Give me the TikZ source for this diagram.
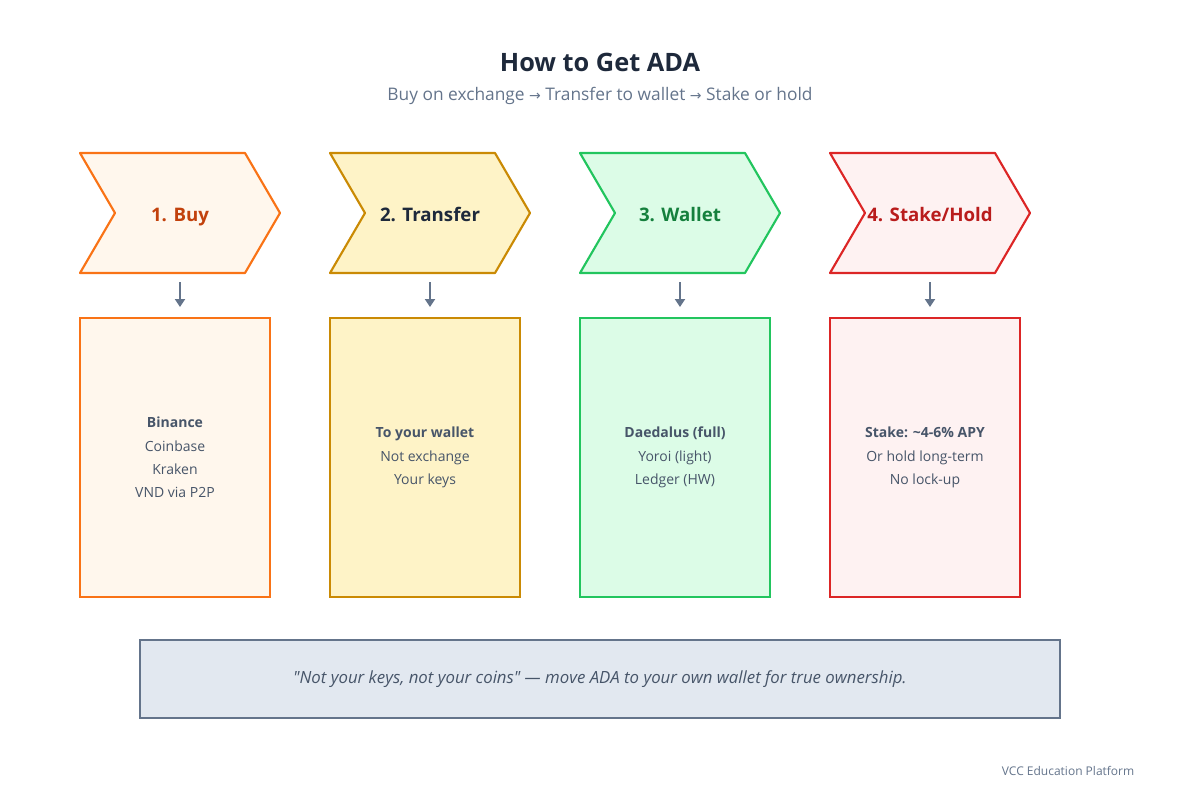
\documentclass[tikz,border=0pt]{standalone}
\usepackage{fontspec}
\setmainfont{Open Sans}
\newfontfamily\notefont{Open Sans}
\newfontfamily\symfont{DejaVu Sans}
\usetikzlibrary{arrows.meta}
\definecolor{titlec}{HTML}{1E293B}
\definecolor{subc}{HTML}{64748B}
\definecolor{bodyc}{HTML}{475569}
\definecolor{arrc}{HTML}{64748B}
\definecolor{sA}{HTML}{F97316}\definecolor{fA}{HTML}{FFF7ED}\definecolor{tA}{HTML}{C2410C}\definecolor{bA}{HTML}{FFF7ED}
\definecolor{sB}{HTML}{CA8A04}\definecolor{fB}{HTML}{FEF3C7}\definecolor{tB}{HTML}{1E293B}\definecolor{bB}{HTML}{FEF3C7}
\definecolor{sC}{HTML}{22C55E}\definecolor{fC}{HTML}{DCFCE7}\definecolor{tC}{HTML}{15803D}\definecolor{bC}{HTML}{DCFCE7}
\definecolor{sD}{HTML}{DC2626}\definecolor{fD}{HTML}{FEF2F2}\definecolor{tD}{HTML}{B91C1C}\definecolor{bD}{HTML}{FEF2F2}
\definecolor{noteF}{HTML}{E2E8F0}\definecolor{noteS}{HTML}{64748B}
\newcommand{\rarr}{{\symfont\fontsize{10.5}{12}\selectfont\raisebox{0.3pt}{→}}}
\tikzset{
  chevlabel/.style={font=\fontsize{14}{16}\selectfont\bfseries, inner sep=0pt, anchor=base},
  infobox/.style={draw, line width=1.6pt, minimum width=142.5pt, minimum height=209pt, inner sep=0pt, align=center, text=bodyc, font=\fontsize{10.5}{17.5}\selectfont},
  boxtext/.style={text=bodyc, align=center, font=\fontsize{10.5}{17.5}\selectfont},
  flowarrow/.style={draw=arrc, line width=1.5pt, -{Triangle[width=7.5pt,length=6pt]}},
}
\begin{document}
\begin{tikzpicture}[x=0.75pt,y=-0.75pt]
\useasboundingbox (0,0) rectangle (1200,800);
\node[text=titlec, font=\fontsize{19}{22}\selectfont\bfseries] (title) at (600,62) {How to Get ADA};
\node[text=subc, font=\fontsize{13}{15}\selectfont] (sub) at (600,96) {Buy on exchange \rarr{} Transfer to wallet \rarr{} Stake or hold};
\foreach \i/\x/\lab/\l in {A/80/{1. Buy}/1, B/330/{2. Transfer}/2, C/580/{3. Wallet}/3, D/830/{4. Stake/Hold}/4} {
  \draw[draw=s\i, fill=f\i, line width=1.6pt, line join=round]
    (\x,153) -- (\x+165,153) -- (\x+200,213) -- (\x+165,273) -- (\x,273) -- (\x+35,213) -- cycle;
  \node[chevlabel, text=t\i] (chev\l) at (\x+100,221.5) {\lab};
  \coordinate (arrs\l) at (\x+100,282);
  \coordinate (arre\l) at (\x+100,307);
  \node[infobox, draw=s\i, fill=b\i] (box\l) at (\x+95,457.5) {\phantom{X}};
  \draw[flowarrow] (arrs\l) -- (arre\l);
}
\node[boxtext] (t1) at (box1) {\textbf{Binance}\\Coinbase\\Kraken\\VND via P2P};
\node[boxtext] (t2) at (box2) {\textbf{To your wallet}\\Not exchange\\Your keys};
\node[boxtext] (t3) at (box3) {\textbf{Daedalus (full)}\\Yoroi (light)\\Ledger (HW)};
\node[boxtext] (t4) at (box4) {\textbf{Stake: \textasciitilde4-6\% APY}\\Or hold long-term\\No lock-up};
\node[draw=noteS, fill=noteF, line width=1.6pt, minimum width=690pt, minimum height=58.5pt, inner sep=0pt, text=bodyc, font=\notefont\fontsize{12.6}{14}\selectfont\itshape] (note) at (600,679) {"Not your keys, not your coins" — move ADA to your own wallet for true ownership.};
\node[text=subc, font=\fontsize{9}{11}\selectfont, anchor=east] (footer) at (1139,771) {VCC Education Platform};
\end{tikzpicture}
\end{document}
